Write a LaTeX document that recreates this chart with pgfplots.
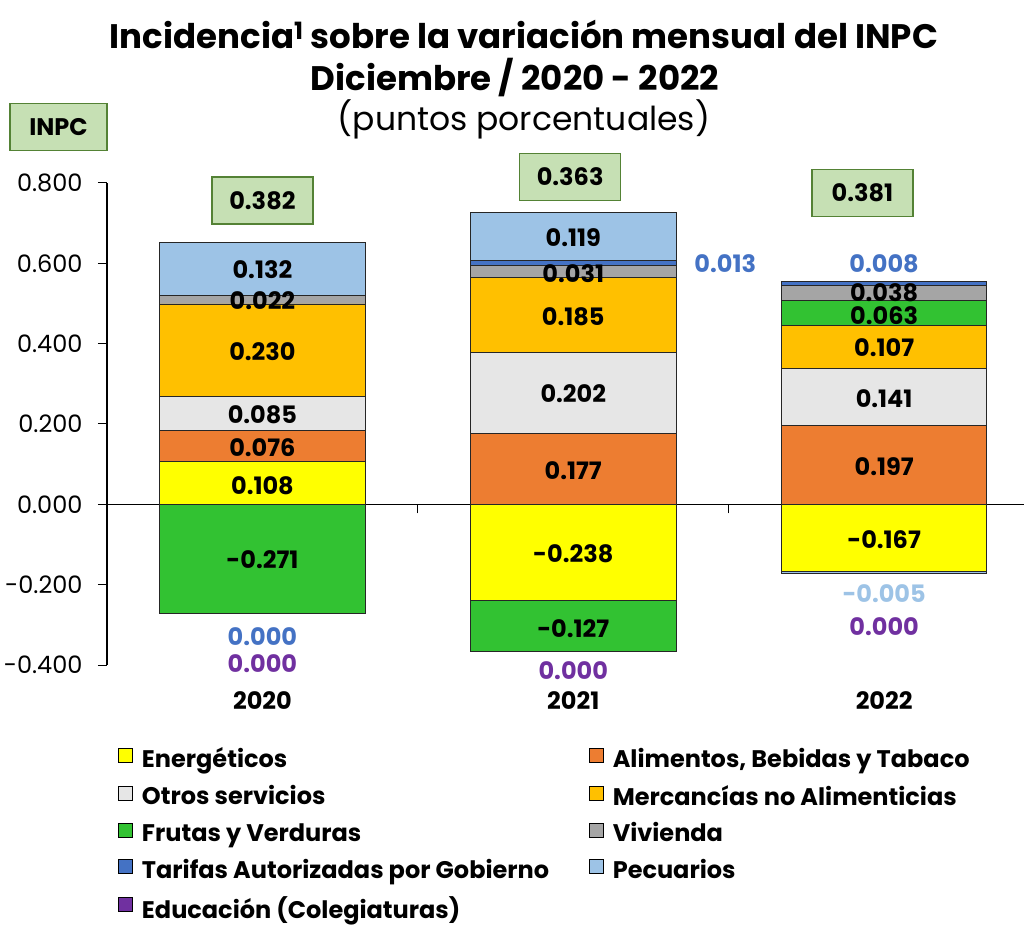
\documentclass[border=0pt]{standalone}
\usepackage{fontspec}
\setmainfont{Poppins}
\usepackage{pgfplots}
\usepackage{pgfplotstable}
\pgfplotsset{compat=1.18}
\definecolor{cEne}{HTML}{FFFF00}
\definecolor{cAli}{HTML}{ED7D31}
\definecolor{cOtr}{HTML}{E6E6E6}
\definecolor{cMer}{HTML}{FFC000}
\definecolor{cFru}{HTML}{32C232}
\definecolor{cViv}{HTML}{A5A5A5}
\definecolor{cTar}{HTML}{4472C4}
\definecolor{cPec}{HTML}{9DC3E6}
\definecolor{cEdu}{HTML}{7030A0}
\definecolor{boxg}{HTML}{C6E0B4}
\definecolor{boxb}{HTML}{548235}
\pgfplotstableread{
x E A O M F V T P D
0 0.108 0.076 0.085 0.230 0 0.022 0.000 0.132 0.000
1 0 0.177 0.202 0.185 0 0.031 0.013 0.119 0.000
2 0 0.197 0.141 0.107 0.063 0.038 0.008 0 0.000
}\postab
\pgfplotstableread{
x E A O M F V T P D
0 0 0 0 0 -0.271 0 0.000 0 0.000
1 -0.238 0 0 0 -0.127 0 0 0 0.000
2 -0.167 0 0 0 0 0 0 -0.005 0.000
}\negtab
\pgfplotsset{
  base/.style={
    at={(107pt,261pt)}, anchor=south west,
    scale only axis, width=917pt, height=482pt,
    xmin=-0.5, xmax=2.45, ymin=-0.4, ymax=0.8,
    ybar stacked, bar width=0.66, clip=false,
    every axis plot/.append style={draw=black!85, line width=0.7pt},
  },
}
\tikzset{
  lab/.style={font=\fontsize{24}{24}\selectfont\bfseries, text=black},
  boxlab/.style={font=\fontsize{24}{24}\selectfont\bfseries, fill=boxg, draw=boxb, line width=1.5pt, minimum width=101pt, minimum height=47pt},
}
\newcommand{\lone}[1]{\makebox[452pt][l]{\hspace{7pt}#1}}
\newcommand{\ltwo}[1]{\hspace{7pt}#1}
\begin{document}
\begin{tikzpicture}
\useasboundingbox (0,0) rectangle (1024pt,926pt);
\node[anchor=base, font=\fontsize{34}{34}\selectfont\bfseries] at (524pt,877pt) {Incidencia\textsuperscript{1} sobre la variación mensual del INPC};
\node[anchor=base, font=\fontsize{34}{34}\selectfont\bfseries] at (515pt,835pt) {Diciembre / 2020 - 2022};
\node[anchor=base, font=\fontsize{33}{33}\selectfont] at (524pt,795pt) {(puntos porcentuales)};
\begin{axis}[base,
  axis x line=middle, axis y line=left, axis line style={-, black, line width=1.3pt},
  tick align=outside, major tick length=9pt, tick style={black, line width=1pt},
  xtick={-0.5,0.5,1.5}, xticklabels={},
  ytick={-0.4,-0.2,0,0.2,0.4,0.6,0.8},
  yticklabel style={xshift=-12pt, /pgf/number format/.cd, fixed, fixed zerofill, precision=3, assume math mode=true},
  ticklabel style={font=\fontsize{24}{24}\selectfont},
  legend columns=2,
  legend style={at={(0.0087,-0.163)}, anchor=north west, draw=none, fill=none,
    font=\fontsize{24}{24}\selectfont\bfseries, row sep=12pt, column sep=0pt, cells={anchor=west}},
  legend image code/.code={\draw[#1, draw=black, line width=0.8pt] (0pt,-4pt) rectangle (14pt,10pt);},
]
\addplot[fill=cEne] table[x=x,y=E]{\postab};
\addplot[fill=cAli] table[x=x,y=A]{\postab};
\addplot[fill=cOtr] table[x=x,y=O]{\postab};
\addplot[fill=cMer] table[x=x,y=M]{\postab};
\addplot[fill=cFru] table[x=x,y=F]{\postab};
\addplot[fill=cViv] table[x=x,y=V]{\postab};
\addplot[fill=cTar] table[x=x,y=T]{\postab};
\addplot[fill=cPec] table[x=x,y=P]{\postab};
\addplot[fill=cEdu] table[x=x,y=D]{\postab};
\legend{\lone{Energéticos}, \ltwo{Alimentos{,} Bebidas y Tabaco},
  \lone{Otros servicios}, \ltwo{Mercancías no Alimenticias},
  \lone{Frutas y Verduras}, \ltwo{Vivienda},
  \lone{Tarifas Autorizadas por Gobierno}, \ltwo{Pecuarios},
  \lone{Educación (Colegiaturas)}}
\end{axis}
\begin{axis}[base, hide axis]
\addplot[fill=cEne] table[x=x,y=E]{\negtab};
\addplot[fill=cAli] table[x=x,y=A]{\negtab};
\addplot[fill=cOtr] table[x=x,y=O]{\negtab};
\addplot[fill=cMer] table[x=x,y=M]{\negtab};
\addplot[fill=cFru] table[x=x,y=F]{\negtab};
\addplot[fill=cViv] table[x=x,y=V]{\negtab};
\addplot[fill=cTar] table[x=x,y=T]{\negtab};
\addplot[fill=cPec] table[x=x,y=P]{\negtab};
\addplot[fill=cEdu] table[x=x,y=D]{\negtab};
\end{axis}
\begin{axis}[base, hide axis]
\addplot[draw=none, fill=none, forget plot] coordinates {(0,0)};
% labels 2020
\node[boxlab] at (axis cs:0,0.757) {0.382};
\node[lab] at (axis cs:0,0.585) {0.132};
\node[lab] at (axis cs:0,0.506) {0.022};
\node[lab] at (axis cs:0,0.381) {0.230};
\node[lab] at (axis cs:0,0.224) {0.085};
\node[lab] at (axis cs:0,0.142) {0.076};
\node[lab] at (axis cs:0,0.047) {0.108};
\node[lab] at (axis cs:0,-0.137) {-0.271};
\node[lab, text=cTar] at (axis cs:0,-0.329) {0.000};
\node[lab, text=cEdu] at (axis cs:0,-0.396) {0.000};
% 2021
\node[boxlab] at (axis cs:0.99,0.815) {0.363};
\node[lab] at (axis cs:1,0.665) {0.119};
\node[lab] at (axis cs:1,0.575) {0.031};
\node[lab, text=cTar] at (axis cs:1.489,0.598) {0.013};
\node[lab] at (axis cs:1,0.468) {0.185};
\node[lab] at (axis cs:1,0.276) {0.202};
\node[lab] at (axis cs:1,0.085) {0.177};
\node[lab] at (axis cs:1,-0.122) {-0.238};
\node[lab] at (axis cs:1,-0.309) {-0.127};
\node[lab, text=cEdu] at (axis cs:1,-0.413) {0.000};
% 2022
\node[boxlab] at (axis cs:1.93,0.775) {0.381};
\node[lab, text=cTar] at (axis cs:2,0.600) {0.008};
\node[lab] at (axis cs:2,0.528) {0.038};
\node[lab] at (axis cs:2,0.471) {0.063};
\node[lab] at (axis cs:2,0.389) {0.107};
\node[lab] at (axis cs:2,0.262) {0.141};
\node[lab] at (axis cs:2,0.095) {0.197};
\node[lab] at (axis cs:2,-0.087) {-0.167};
\node[lab, text=cPec] at (axis cs:2,-0.222) {-0.005};
\node[lab, text=cEdu] at (axis cs:2,-0.304) {0.000};
% categories
\node[lab] at (axis cs:0,-0.488) {2020};
\node[lab] at (axis cs:1,-0.488) {2021};
\node[lab] at (axis cs:2,-0.488) {2022};
\node[boxlab, minimum width=97pt] at (axis cs:-0.656,0.939) {INPC};
\end{axis}
\end{tikzpicture}
\end{document}
